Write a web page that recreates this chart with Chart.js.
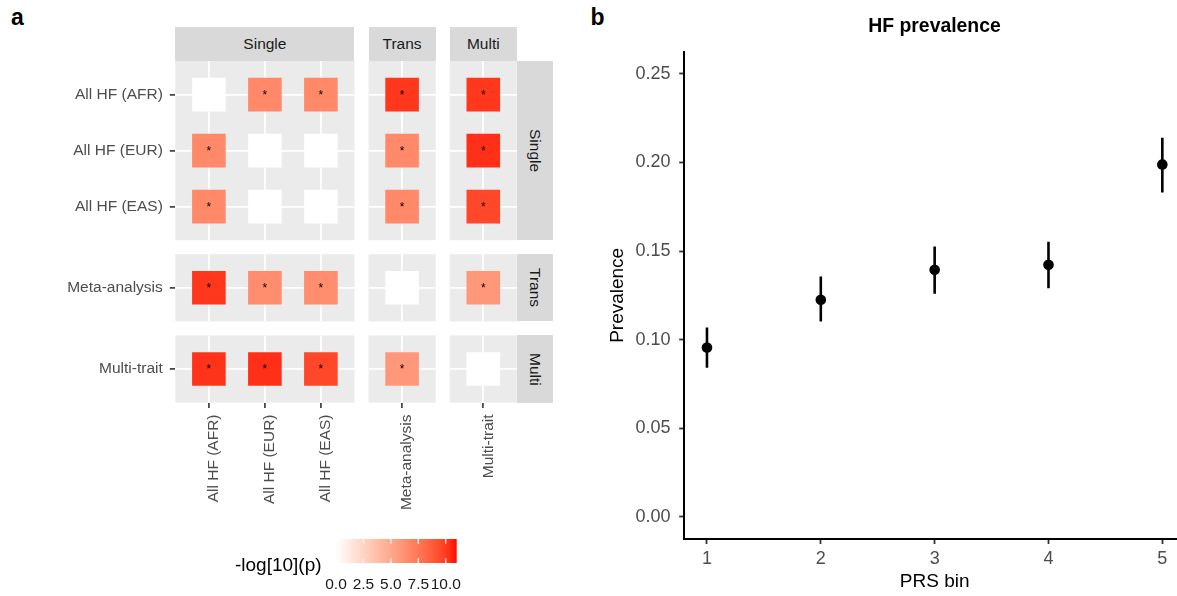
<!DOCTYPE html>
<html><head><meta charset="utf-8">
<script src="https://cdn.jsdelivr.net/npm/chart.js@4.4.1/dist/chart.umd.min.js"></script>
<style>
html,body{margin:0;padding:0;width:1177px;height:596px;overflow:hidden;background:#fff;
  font-family:"Liberation Sans",Arial,Helvetica,sans-serif;}
canvas{position:absolute;}
.lbl{position:absolute;white-space:nowrap;}
.strip{position:absolute;background:#D9D9D9;color:#1A1A1A;font-size:15.5px;display:flex;align-items:center;justify-content:center;}
.vr{writing-mode:vertical-rl;}
</style></head><body>
<script>
// ---------------- DATA ----------------
const traits = ['All HF (AFR)', 'All HF (EUR)', 'All HF (EAS)', 'Meta-analysis', 'Multi-trait'];
const traitGroup = ['Single', 'Single', 'Single', 'Trans', 'Multi'];
const groups = ['Single', 'Trans', 'Multi'];
// -log10(p), rows = y trait, cols = x trait (same order as traits)
const negLogP = [
  [0.0,  6.6,  6.6, 10.1, 10.1],
  [6.6,  0.0,  0.0,  6.6, 10.3],
  [6.6,  0.0,  0.0,  6.6,  9.6],
  [10.1, 6.4,  6.4,  0.0,  5.8],
  [10.2, 10.3, 9.6,  5.8,  0.0]
];
const stars = [
  ['',  '*', '*', '*', '*'],
  ['*', '',  '',  '*', '*'],
  ['*', '',  '',  '*', '*'],
  ['*', '*', '*', '',  '*'],
  ['*', '*', '*', '*', '' ]
];
const fillLimits = [0, 11.0];
const legendTicks = [0, 2.5, 5, 7.5, 10];
const legendTitle = '-log[10](p)';

const prsBins = [1, 2, 3, 4, 5];
const prevalence = [0.0956, 0.1225, 0.1394, 0.1422, 0.1989];
const prevLower  = [0.0841, 0.1103, 0.1259, 0.1290, 0.1830];
const prevUpper  = [0.1068, 0.1356, 0.1525, 0.1553, 0.2139];
const prevTicks  = [0, 0.05, 0.10, 0.15, 0.20, 0.25];

// ---------------- STYLE / LAYOUT ----------------
const FAMILY = '"Liberation Sans", Arial, Helvetica, sans-serif';
const LOW = [255, 255, 255], HIGH = [255, 0, 0];
const UNIT = 56, GAP = 14, A_LEFT = 175.3, A_TOP = 61;
const TILE = 0.6;

// colour ramp in CIELAB like ggplot
function s2l(c){c/=255;return c<=0.04045?c/12.92:Math.pow((c+0.055)/1.055,2.4);}
function l2s(c){const v=c<=0.0031308?12.92*c:1.055*Math.pow(c,1/2.4)-0.055;return Math.round(Math.max(0,Math.min(1,v))*255);}
const WN=[0.95047,1,1.08883];
function toLab(rgb){const [R,G,B]=rgb.map(s2l);
  const X=(0.4124*R+0.3576*G+0.1805*B)/WN[0],Y=(0.2126*R+0.7152*G+0.0722*B)/WN[1],Z=(0.0193*R+0.1192*G+0.9505*B)/WN[2];
  const f=t=>t>0.008856?Math.cbrt(t):7.787*t+16/116;
  return [116*f(Y)-16,500*(f(X)-f(Y)),200*(f(Y)-f(Z))];}
function fromLab([L,a,b]){const fy=(L+16)/116,fx=fy+a/500,fz=fy-b/200;
  const fi=t=>t*t*t>0.008856?t*t*t:(t-16/116)/7.787;
  const X=WN[0]*fi(fx),Y=WN[1]*fi(fy),Z=WN[2]*fi(fz);
  return [l2s(3.2406*X-1.5372*Y-0.4986*Z),l2s(-0.9689*X+1.8758*Y+0.0415*Z),l2s(0.0557*X-0.2040*Y+1.0570*Z)];}
const LAB_LO=toLab(LOW),LAB_HI=toLab(HIGH);
function fillColor(v){let t=(v-fillLimits[0])/(fillLimits[1]-fillLimits[0]);t=Math.max(0,Math.min(1,t));
  const c=fromLab(LAB_LO.map((x,i)=>x+(LAB_HI[i]-x)*t));return `rgb(${c[0]},${c[1]},${c[2]})`;}

function addCanvas(left,top,w,h){const c=document.createElement('canvas');c.width=w;c.height=h;
  c.style.left=left+'px';c.style.top=top+'px';c.style.width=w+'px';c.style.height=h+'px';document.body.appendChild(c);return c;}
function addLabel(text,css,cls){const d=document.createElement('div');d.className=cls||'lbl';d.textContent=text;Object.assign(d.style,css);document.body.appendChild(d);return d;}
function noPad(s){s.paddingTop=0;s.paddingBottom=0;s.paddingLeft=0;s.paddingRight=0;}

const panelBg={id:'panelBg',beforeDraw(chart,args,opts){if(!opts||!opts.color)return;const a=chart.chartArea,ctx=chart.ctx;
  ctx.save();ctx.fillStyle=opts.color;ctx.fillRect(a.left,a.top,a.right-a.left,a.bottom-a.top);ctx.restore();}};
const starPlugin={id:'stars',afterDatasetsDraw(chart){const ctx=chart.ctx,meta=chart.getDatasetMeta(0);
  ctx.save();ctx.font='12px '+FAMILY;ctx.fillStyle='#000';ctx.textAlign='center';ctx.textBaseline='middle';
  meta.data.forEach((el,i)=>{const d=chart.data.datasets[0].data[i];if(d.s)ctx.fillText(d.s,el.x,el.y+1);});ctx.restore();}};

// ---------------- PANEL A : facets ----------------
const members = groups.map(g=>traits.map((t,i)=>i).filter(i=>traitGroup[i]===g));
const colX=[],colW=[],rowY=[],rowH=[];
let cx=A_LEFT; members.forEach(m=>{colX.push(cx);const w=(m.length+0.2)*UNIT;colW.push(w);cx+=w+GAP;});
let cy=A_TOP; members.forEach(m=>{rowY.push(cy);const h=(m.length+0.2)*UNIT;rowH.push(h);cy+=h+GAP;});

function facet(gr,gc){
  const rows=members[gr],cols=members[gc];
  const isLeft=gc===0,isBottom=gr===groups.length-1;
  const pL=colX[gc],pR=colX[gc]+colW[gc],pT=rowY[gr],pB=rowY[gr]+rowH[gr];
  const cl=Math.floor(pL)-(isLeft?175:0),ct=Math.floor(pT);
  const cw=Math.ceil(pR)-cl,ch=Math.ceil(pB)+(isBottom?150:0)-ct;
  const canvas=addCanvas(cl,ct,cw,ch);
  const yW=pL-cl, xH=isBottom?ch-(pB-ct):0;
  const pts=[];
  rows.forEach((ri,a)=>cols.forEach((ci,b)=>pts.push({x:b+1,y:a+1,v:negLogP[ri][ci],s:stars[ri][ci]})));
  const rad=c=>{const s=c.chart.scales.x;return Math.abs(s.getPixelForValue(1+TILE/2)-s.getPixelForValue(1))/Math.SQRT1_2;};
  new Chart(canvas,{type:'scatter',
    data:{datasets:[{data:pts,pointStyle:'rect',rotation:0,borderWidth:0,
      backgroundColor:c=>c.raw?fillColor(c.raw.v):'#fff',pointRadius:rad,pointHoverRadius:rad}]},
    options:{responsive:false,animation:false,events:[],
      layout:{autoPadding:false,padding:{left:0,top:pT-ct,right:cw-(pR-cl),bottom:isBottom?0:ch-(pB-ct)}},
      plugins:{legend:{display:false},tooltip:{enabled:false},title:{display:false},panelBg:{color:'#EBEBEB'}},
      scales:{
        x:{type:'linear',min:0.4,max:cols.length+0.6,
          afterBuildTicks:s=>{s.ticks=cols.map((_,k)=>({value:k+1}));},
          afterFit:s=>{s.height=xH;noPad(s);},
          border:{display:false},
          grid:{color:'#FFFFFF',lineWidth:1.8,drawTicks:isBottom,tickLength:5.5,tickColor:'#333333',tickWidth:1.6},
          ticks:{display:isBottom,autoSkip:false,minRotation:90,maxRotation:90,labelOffset:5,padding:6.4,
            color:'#4D4D4D',font:{family:FAMILY,size:15.5},callback:v=>traits[cols[v-1]]}},
        y:{type:'linear',reverse:true,min:0.4,max:rows.length+0.6,
          afterBuildTicks:s=>{s.ticks=rows.map((_,k)=>({value:k+1}));},
          afterFit:s=>{s.width=yW;noPad(s);},
          border:{display:false},
          grid:{color:'#FFFFFF',lineWidth:1.8,drawTicks:isLeft,tickLength:5.5,tickColor:'#333333',tickWidth:1.6},
          ticks:{display:isLeft,autoSkip:false,padding:7,color:'#4D4D4D',font:{family:FAMILY,size:15.5},
            callback:v=>traits[rows[v-1]]}}
      }},
    plugins:[panelBg,starPlugin]});
}
for(let r=0;r<groups.length;r++)for(let c=0;c<groups.length;c++)facet(r,c);

// strips
groups.forEach((g,k)=>{
  addLabel(g,{left:colX[k]+'px',top:'26.7px',width:colW[k]+'px',height:'34.3px'},'strip');
  const d=addLabel('',{left:(colX[2]+colW[2])+'px',top:rowY[k]+'px',width:'35.7px',height:rowH[k]+'px'},'strip');
  const sp=document.createElement('span');sp.className='vr';sp.textContent=g;d.appendChild(sp);
});

// colour bar legend
(function(){
  const barL=336,barT=539,barW=120.7,barH=24;
  const cl=316,cw=160,ch=52;
  const canvas=addCanvas(cl,barT,cw,ch);
  const grad={id:'grad',beforeDraw(chart){const a=chart.chartArea,ctx=chart.ctx,xs=chart.scales.x;
    ctx.save();
    for(let px=Math.floor(a.left);px<Math.ceil(a.right);px++){
      const l=Math.max(px,a.left),r=Math.min(px+1,a.right);
      ctx.fillStyle=fillColor(xs.getValueForPixel((l+r)/2));ctx.fillRect(l,a.top,r-l,a.bottom-a.top);}
    ctx.strokeStyle='#FFFFFF';ctx.lineWidth=1.2;
    const h=(a.bottom-a.top)/5;
    legendTicks.forEach(v=>{const p=xs.getPixelForValue(v);ctx.beginPath();
      ctx.moveTo(p,a.top);ctx.lineTo(p,a.top+h);ctx.moveTo(p,a.bottom-h);ctx.lineTo(p,a.bottom);ctx.stroke();});
    ctx.restore();}};
  new Chart(canvas,{type:'scatter',data:{datasets:[]},
    options:{responsive:false,animation:false,events:[],
      layout:{autoPadding:false,padding:{left:barL-cl,right:cw-(barL-cl)-barW,top:0,bottom:0}},
      plugins:{legend:{display:false},tooltip:{enabled:false}},
      scales:{
        x:{type:'linear',min:fillLimits[0],max:fillLimits[1],
          afterBuildTicks:s=>{s.ticks=legendTicks.map(v=>({value:v}));},
          afterFit:s=>{s.height=ch-barH;noPad(s);},
          border:{display:false},grid:{display:false},
          ticks:{autoSkip:false,maxRotation:0,padding:4.4,color:'#1A1A1A',font:{family:FAMILY,size:15.5},callback:v=>v.toFixed(1)}},
        y:{display:false,min:0,max:1}
      }},
    plugins:[grad]});
  addLabel(legendTitle,{left:'235px',top:'555px',fontSize:'19px',lineHeight:'19px',color:'#000'});
})();

addLabel('a',{left:'11px',top:'6px',fontSize:'23px',lineHeight:'23px',fontWeight:'bold',color:'#000'});
addLabel('b',{left:'590.5px',top:'5.5px',fontSize:'23px',lineHeight:'23px',fontWeight:'bold',color:'#000'});

// ---------------- PANEL B ----------------
(function(){
  const cl=590,cw=689,ch=596;
  const canvas=addCanvas(cl,0,cw,ch);
  const ds=[{type:'scatter',data:prsBins.map((b,i)=>({x:b,y:prevalence[i]})),
    pointRadius:5.3,pointHoverRadius:5.3,backgroundColor:'#000',borderWidth:0,order:0}];
  prsBins.forEach((b,i)=>ds.push({type:'line',data:[{x:b,y:prevLower[i]},{x:b,y:prevUpper[i]}],
    borderColor:'#000',borderWidth:2.6,borderCapStyle:'butt',pointRadius:0,pointHoverRadius:0,order:1}));
  new Chart(canvas,{type:'scatter',data:{datasets:ds},
    options:{responsive:false,animation:false,events:[],
      layout:{autoPadding:false,padding:0},
      plugins:{legend:{display:false},tooltip:{enabled:false},
        title:{display:true,text:'HF prevalence',color:'#000',font:{family:FAMILY,size:19.4,weight:'bold'},padding:{top:15.4,bottom:13}}},
      scales:{
        x:{type:'linear',min:0.8,max:5.2,
          afterBuildTicks:s=>{s.ticks=prsBins.map(v=>({value:v}));},
          afterFit:s=>{s.height=57;noPad(s);},
          border:{display:true,color:'#000',width:2},
          grid:{display:true,drawOnChartArea:false,drawTicks:true,tickLength:5,tickColor:'#333333',tickWidth:1.8},
          ticks:{autoSkip:false,maxRotation:0,padding:4,color:'#4D4D4D',font:{family:FAMILY,size:18},callback:v=>String(v)},
          title:{display:true,text:'PRS bin',color:'#000',font:{family:FAMILY,size:19},padding:{top:0,bottom:2.6}}},
        y:{type:'linear',min:-0.0125,max:0.2625,
          afterBuildTicks:s=>{s.ticks=prevTicks.map(v=>({value:v}));},
          afterFit:s=>{s.width=94.2;noPad(s);},
          border:{display:true,color:'#000',width:2},
          grid:{display:true,drawOnChartArea:false,drawTicks:true,tickLength:5,tickColor:'#333333',tickWidth:1.8},
          ticks:{autoSkip:false,padding:8.7,color:'#4D4D4D',font:{family:FAMILY,size:18},callback:v=>v.toFixed(2)},
          title:{display:true,text:'Prevalence',color:'#000',font:{family:FAMILY,size:19},padding:{top:16.6,bottom:0}}},
        y2:{position:'right',display:true,afterFit:s=>{s.width=93.9;noPad(s);},
          grid:{display:false},ticks:{display:false},border:{display:false}}
      }}});
})();
</script>
</body></html>
